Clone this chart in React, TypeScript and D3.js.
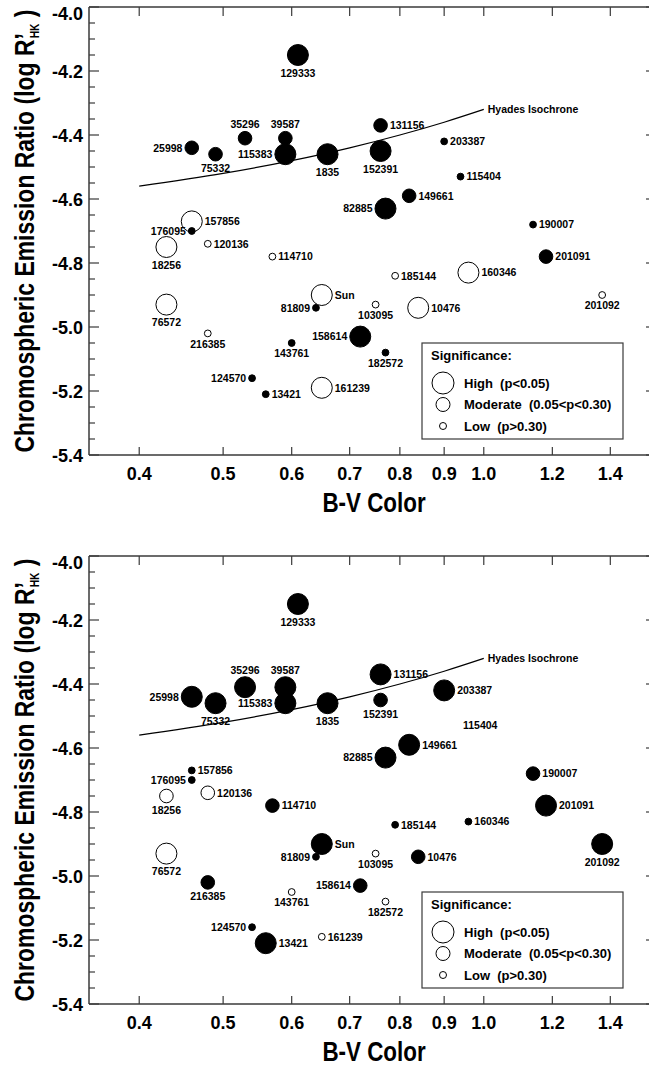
import React from 'react';
import * as d3 from 'd3';

// star identifiers (HD numbers) plotted in both panels
const stars = [
  '129333', '35296', '39587', '115383', '25998', '75332', '1835', '131156', '152391',
  '203387', '115404', '149661', '82885', '190007', '201091', '157856', '176095', '120136',
  '18256', '114710', '185144', '160346', '76572', '81809', 'Sun', '103095', '10476',
  '201092', '216385', '143761', '158614', '182572', '124570', '13421', '161239',
];
const bvColor = [
  0.61, 0.53, 0.59, 0.59, 0.46, 0.49, 0.66, 0.76, 0.76,
  0.90, 0.94, 0.82, 0.77, 1.14, 1.18, 0.46, 0.46, 0.48,
  0.43, 0.57, 0.79, 0.96, 0.43, 0.64, 0.65, 0.75, 0.84,
  1.37, 0.48, 0.60, 0.72, 0.77, 0.54, 0.56, 0.65,
];
const logRHK = [
  -4.15, -4.41, -4.41, -4.46, -4.44, -4.46, -4.46, -4.37, -4.45,
  -4.42, -4.53, -4.59, -4.63, -4.68, -4.78, -4.67, -4.70, -4.74,
  -4.75, -4.78, -4.84, -4.83, -4.93, -4.94, -4.90, -4.93, -4.94,
  -4.90, -5.02, -5.05, -5.03, -5.08, -5.16, -5.21, -5.19,
];
// significance: H high, M moderate, L low, '' none
const topSignificance = [
  'H', 'M', 'M', 'H', 'M', 'M', 'H', 'M', 'H',
  'L', 'L', 'M', 'H', 'L', 'M', 'H', 'L', 'L',
  'H', 'L', 'L', 'H', 'H', 'L', 'H', 'L', 'H',
  'L', 'L', 'L', 'H', 'L', 'L', 'L', 'H',
];
// + filled, - open
const topTrend = [
  '+', '+', '+', '+', '+', '+', '+', '+', '+',
  '+', '+', '+', '+', '+', '+', '-', '+', '-',
  '-', '-', '-', '-', '-', '+', '-', '-', '-',
  '-', '-', '+', '+', '+', '+', '+', '-',
];
const bottomSignificance = [
  'H', 'H', 'H', 'H', 'H', 'H', 'H', 'H', 'M',
  'H', '', 'H', 'H', 'M', 'H', 'L', 'L', 'M',
  'M', 'M', 'L', 'L', 'H', 'L', 'H', 'L', 'M',
  'H', 'M', 'L', 'M', 'L', 'L', 'H', 'L',
];
const bottomTrend = [
  '+', '+', '+', '+', '+', '+', '+', '+', '+',
  '+', '+', '+', '+', '+', '+', '+', '+', '-',
  '-', '+', '+', '+', '-', '+', '+', '-', '+',
  '+', '+', '-', '+', '-', '+', '+', '-',
];

const xTicks = [0.4, 0.5, 0.6, 0.7, 0.8, 0.9, 1.0, 1.2, 1.4];
const yTicks = [-4.0, -4.2, -4.4, -4.6, -4.8, -5.0, -5.2, -5.4];

const hyadesBV = [0.4, 0.5, 0.6, 0.7, 0.8, 0.9, 1.0];
const hyadesLogR = [-4.56, -4.52, -4.48, -4.44, -4.40, -4.36, -4.32];

const legendRows = [
  { key: 'H', text: 'High  (p<0.05)' },
  { key: 'M', text: 'Moderate  (0.05<p<0.30)' },
  { key: 'L', text: 'Low  (p>0.30)' },
];

// label placement around each marker (layout only)
const labelSide = [
  'b', 't', 't', 'l', 'l', 'b', 'b', 'r', 'b',
  'r', 'r', 'r', 'l', 'r', 'r', 'r', 'l', 'r',
  'b', 'r', 'r', 'r', 'b', 'l', 'r', 'b', 'r',
  'b', 'b', 'b', 'l', 'b', 'l', 'r', 'r',
];

const FONT = 'Liberation Sans, Arial, Helvetica, sans-serif';
const radius: Record<string, number> = { H: 10.5, M: 6.8, L: 3.4, '': 0 };
const legendRadius: Record<string, number> = { H: 11, M: 7, L: 3.5 };

const LEFT = 89;
const RIGHT = 651;
const PLOT_H = 448;
const FRAME = '#3a3a3a';

function Panel({ top, sig, trend }: { top: number; sig: string[]; trend: string[] }) {
  const x = d3.scaleLog().domain([0.35, 1.56]).range([LEFT, RIGHT]);
  const y = d3.scaleLinear().domain([-4.0, -5.4]).range([top, top + PLOT_H]);
  const bottom = top + PLOT_H;
  const minor = d3.range(0, 29).map((i) => -4 - i * 0.05);

  const hyades = d3
    .line<number>()
    .x((d) => x(d))
    .y((_, i) => y(hyadesLogR[i]))
    .curve(d3.curveMonotoneX)(hyadesBV);

  const lgX = 422, lgY = top + 336, lgW = 201, lgH = 96;

  return (
    <g fontFamily={FONT}>
      {/* frame */}
      <line x1={LEFT} x2={RIGHT} y1={top} y2={top} stroke={FRAME} strokeWidth={1.5} />
      <line x1={LEFT} x2={RIGHT} y1={bottom} y2={bottom} stroke={FRAME} strokeWidth={1.5} />
      <line x1={LEFT} x2={LEFT} y1={top} y2={bottom} stroke={FRAME} strokeWidth={1.5} />
      <line x1={RIGHT} x2={RIGHT} y1={top} y2={bottom} stroke={FRAME} strokeWidth={1.5} />

      {/* y minor/major ticks */}
      {minor.map((v, i) => (
        <line key={'m' + i} x1={LEFT} x2={LEFT + (i % 4 === 0 ? 10 : 6)} y1={y(v)} y2={y(v)}
          stroke={FRAME} strokeWidth={1.2} />
      ))}
      {yTicks.map((v, i) => (
        <g key={'y' + i}>
          <line x1={RIGHT - 5} x2={RIGHT} y1={y(v)} y2={y(v)} stroke={FRAME} strokeWidth={1.2} />
          <text x={83} y={y(v) + (i === 0 ? 12.5 : 6.5)} textAnchor="end" fontSize={18}
            fontWeight="bold">{v.toFixed(1)}</text>
        </g>
      ))}

      {/* x ticks */}
      {xTicks.map((v, i) => (
        <g key={'x' + i}>
          <line x1={x(v)} x2={x(v)} y1={top} y2={top + 9} stroke={FRAME} strokeWidth={1.2} />
          <line x1={x(v)} x2={x(v)} y1={bottom} y2={bottom - 8} stroke={FRAME} strokeWidth={1.2} />
          <text x={x(v)} y={bottom + 24.5} textAnchor="middle" fontSize={18}
            fontWeight="bold">{v.toFixed(1)}</text>
        </g>
      ))}

      {/* axis titles */}
      <text transform={`translate(374,${bottom + 57}) scale(0.8,1)`} textAnchor="middle"
        fontSize={28} fontWeight="bold">B-V Color</text>
      <text transform={`translate(34,${top + 224}) rotate(-90) scale(0.85,1)`} textAnchor="middle"
        fontSize={27} fontWeight="bold">
        Chromospheric Emission Ratio (log R<tspan>’</tspan>
        <tspan fontSize={12} dx={-6} dy={5}>HK</tspan>
        <tspan dy={-5}> )</tspan>
      </text>

      {/* Hyades isochrone */}
      <path d={hyades || ''} fill="none" stroke="#000" strokeWidth={1.2} />
      <text x={x(1.0) + 4} y={y(-4.32) + 3.8} fontSize={10.5} fontWeight="bold">Hyades Isochrone</text>

      {/* stars */}
      {stars.map((name, i) => {
        const cx = x(bvColor[i]);
        const cy = y(logRHK[i]);
        const r = radius[sig[i]];
        const side = labelSide[i];
        let tx = cx, ty = cy + 3.8, anchor = 'middle';
        if (side === 'r') { tx = cx + r + 2.5; anchor = 'start'; }
        if (side === 'l') { tx = cx - r - 2.5; anchor = 'end'; }
        if (side === 'b') { ty = cy + r + 11; }
        if (side === 't') { ty = cy - r - 3; }
        return (
          <g key={name}>
            {r > 0 && (
              <circle cx={cx} cy={cy} r={r} fill={trend[i] === '+' ? '#000' : '#fff'}
                stroke="#000" strokeWidth={1} />
            )}
            <text x={tx} y={ty} textAnchor={anchor} fontSize={10.5} fontWeight="bold">{name}</text>
          </g>
        );
      })}

      {/* legend */}
      <rect x={lgX} y={lgY} width={lgW} height={lgH} fill="#fff" stroke={FRAME} strokeWidth={1.2} />
      <text x={lgX + 9} y={lgY + 17} fontSize={13} fontWeight="bold">Significance:</text>
      {legendRows.map((row, i) => (
        <g key={row.key}>
          <circle cx={lgX + 21} cy={lgY + 40 + i * 21.5} r={legendRadius[row.key]} fill="#fff"
            stroke="#000" strokeWidth={1} />
          <text x={lgX + 42} y={lgY + 44.5 + i * 21.5} fontSize={13} fontWeight="bold"
            style={{ whiteSpace: 'pre' }}>{row.text}</text>
        </g>
      ))}
    </g>
  );
}

export default function App() {
  return (
    <svg width={649} height={1067} style={{ position: 'absolute', left: 0, top: 0, background: '#fff' }}>
      <rect width={649} height={1067} fill="#fff" />
      <Panel top={7} sig={topSignificance} trend={topTrend} />
      <Panel top={556} sig={bottomSignificance} trend={bottomTrend} />
    </svg>
  );
}
